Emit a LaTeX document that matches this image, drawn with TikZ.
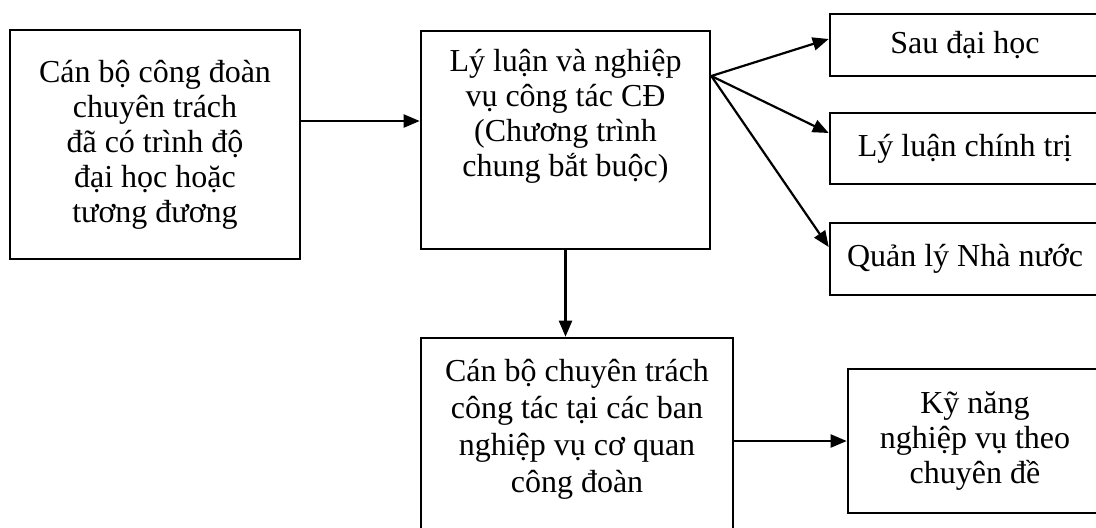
\documentclass[tikz,border=0pt]{standalone}
\usepackage{fontspec}
\setmainfont{Liberation Serif}
\usetikzlibrary{arrows.meta,positioning}

\begin{document}
\begin{tikzpicture}[x=0.5pt,y=-0.5pt,
    hop/.style={draw, line width=1.3pt, inner sep=0pt},
    chu/.style={align=center, inner sep=0pt, font=\fontsize{16}{17.5}\selectfont},
    mui/.style={line width=1.1pt, -{Triangle[length=8pt,width=6.5pt]}}]
    \useasboundingbox (0,0) rectangle (1096,527);
    \clip (0,0) rectangle (1096,527);

    \node[hop, chu, minimum width=145pt, minimum height=114.5pt] (cbcd) at (155,144.5) {
        Cán bộ công đoàn\\
        chuyên trách\\
        đã có trình độ\\
        đại học hoặc\\
        tương đương
    };

    \node[hop, minimum width=144.5pt, minimum height=109pt] (lyluan) at (565.5,140) {};
    \node[chu, below=9.5pt of lyluan.north] (lyluantxt) {
        Lý luận và nghiệp\\
        vụ công tác CĐ\\
        (Chương trình\\
        chung bắt buộc)
    };

    \node[hop, chu, minimum width=135pt, minimum height=31pt] (sdh) at (965,45) {Sau đại học};
    \node[hop, chu, minimum width=135pt, minimum height=35.5pt] (llct) at (965,148.5) {Lý luận chính trị};
    \node[hop, chu, minimum width=135pt, minimum height=36pt] (qlnn) at (965,259) {Quản lý Nhà nước};

    \node[hop, minimum width=156pt, minimum height=111pt] (canbo) at (577,449) {};
    \node[chu, font=\fontsize{16}{18.5}\selectfont, below=11pt of canbo.north] (canbotxt) {
        Cán bộ chuyên trách\\
        công tác tại các ban\\
        nghiệp vụ cơ quan\\
        công đoàn
    };

    \node[hop, chu, minimum width=127pt, minimum height=72pt] (kynang) at (975,441) {
        Kỹ năng\\
        nghiệp vụ theo\\
        chuyên đề
    };

    % mui ten
    \coordinate (vao) at ([yshift=11.75pt]cbcd.east);
    \draw[mui] (vao) -- (vao -| lyluan.west);
    \coordinate (re) at ([yshift=32pt]lyluan.east);
    \draw[mui] (re) -- ([yshift=3pt]sdh.west);
    \draw[mui] (re) -- ([yshift=7.75pt]llct.west);
    \draw[mui] (re) -- ([yshift=6pt]qlnn.west);
    \draw[mui] (lyluan.south) -- (lyluan.south |- canbo.north);
    \draw[mui] (kynang.west -| canbo.east) -- (kynang.west);
\end{tikzpicture}
\end{document}
